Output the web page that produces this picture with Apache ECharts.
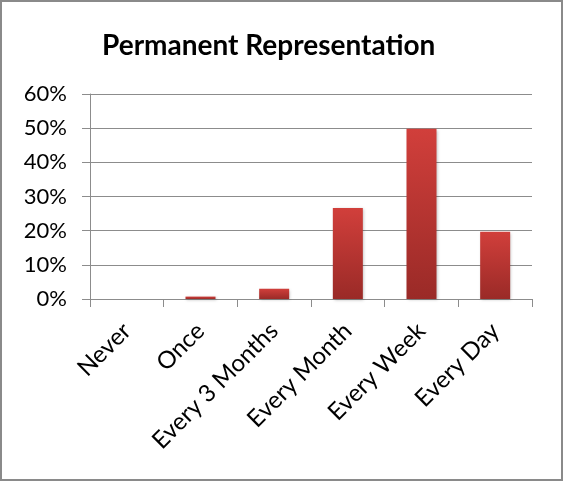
<!DOCTYPE html>
<html>
<head>
<meta charset="utf-8">
<script src="https://cdn.jsdelivr.net/npm/echarts@6/dist/echarts.min.js"></script>
<style>
  html, body { margin: 0; padding: 0; background: #fff; }
  #chart { width: 563px; height: 481px; box-sizing: border-box; border: 2px solid #8a8a8a; }
</style>
</head>
<body>
<div id="chart"></div>
<script>
var categories = ['Never', 'Once', 'Every 3 Months', 'Every Month', 'Every Week', 'Every Day'];
var shares = [0, 0.7, 3, 26.6, 49.8, 19.7];
var yTicks = [0, 10, 20, 30, 40, 50, 60];

var chart = echarts.init(document.getElementById('chart'));
var option = {
  animation: false,
  title: {
    text: 'Permanent Representation',
    left: 95,
    top: 25,
    textStyle: { fontFamily: 'Lato', fontWeight: 'bold', fontSize: 28, color: '#000' }
  },
  grid: { left: 88, right: 29, top: 92, bottom: 180 },
  xAxis: {
    type: 'category',
    data: categories,
    axisLine: { lineStyle: { color: '#8c8c8c', width: 1 } },
    axisTick: { show: true, length: 8, lineStyle: { color: '#8c8c8c' } },
    axisLabel: {
      rotate: 45,
      interval: 0,
      margin: 28,
      fontFamily: 'Lato',
      fontSize: 24,
      color: '#000'
    }
  },
  yAxis: {
    type: 'value',
    min: yTicks[0],
    max: yTicks[yTicks.length - 1],
    interval: 10,
    axisLine: { show: true, lineStyle: { color: '#8c8c8c', width: 1 } },
    axisTick: { show: true, length: 8, lineStyle: { color: '#8c8c8c' } },
    splitLine: { lineStyle: { color: '#8c8c8c', width: 1 } },
    axisLabel: {
      formatter: '{value}%',
      margin: 23,
      fontFamily: 'Lato',
      fontSize: 22,
      color: '#000'
    }
  },
  series: [
    {
      type: 'bar',
      data: shares,
      barWidth: 30,
      itemStyle: {
        color: new echarts.graphic.LinearGradient(0, 0, 0, 1, [
          { offset: 0, color: '#d13f3b' },
          { offset: 1, color: '#9a2a27' }
        ]),
        shadowColor: 'rgba(0,0,0,0.25)',
        shadowBlur: 3,
        shadowOffsetX: 1,
        shadowOffsetY: 1
      }
    }
  ]
};
chart.setOption(option);
</script>
</body>
</html>
